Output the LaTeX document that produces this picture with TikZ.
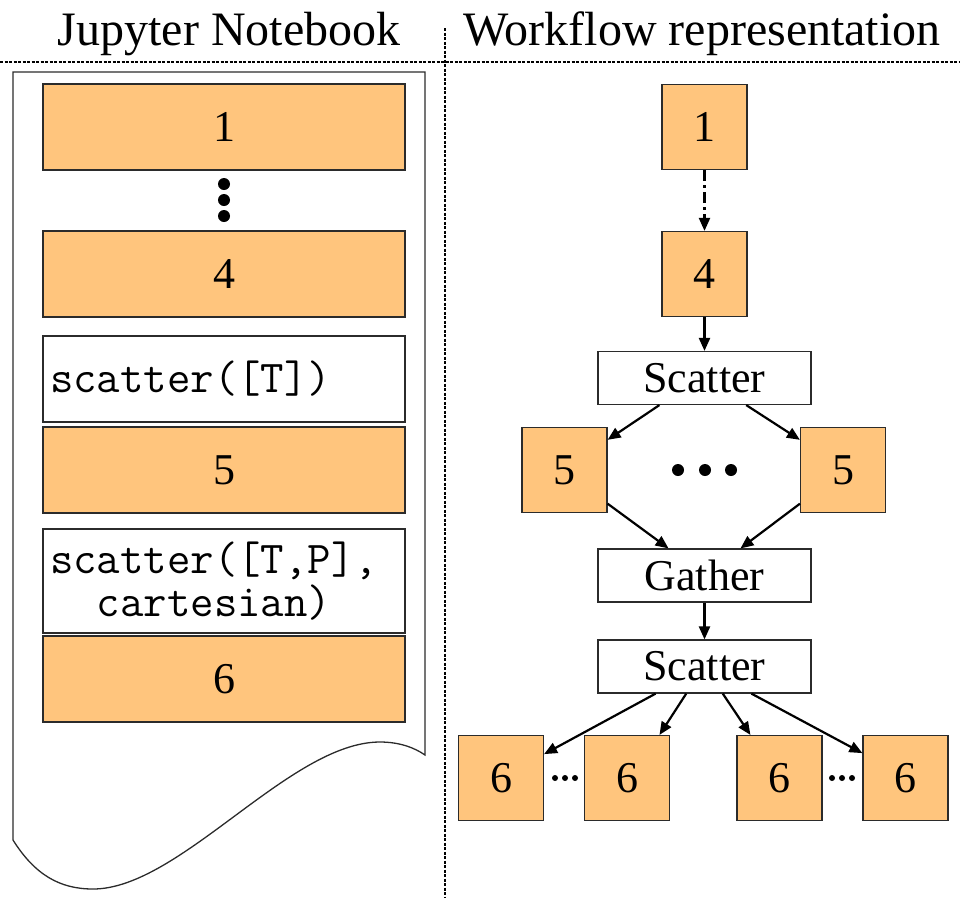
\documentclass[tikz,border=0pt]{standalone}
\usepackage{fontspec}
\setmainfont{Liberation Serif}
\usetikzlibrary{arrows.meta, positioning}
\definecolor{zelle}{HTML}{FFC57D}
\definecolor{rand}{HTML}{2B2B2B}

\begin{document}
\begin{tikzpicture}[x=1pt, y=-1pt,
    every node/.style={font=\fontsize{44}{48}\selectfont},
    cell/.style={draw=rand, fill=zelle, line width=1.2pt, minimum width=362pt,
                 minimum height=86pt, inner sep=0pt},
    code/.style={draw=rand, fill=white, line width=1.2pt, text width=348pt,
                 inner xsep=7pt, inner ysep=0pt, align=left,
                 font=\ttfamily\fontsize{45.5}{43}\selectfont},
    task/.style={draw=rand, fill=zelle, line width=1.2pt, minimum size=85pt, inner sep=0pt},
    op/.style={draw=rand, fill=white, line width=1.2pt, minimum width=213pt,
               minimum height=53pt, inner sep=0pt},
    flow/.style={-{Triangle[width=11pt,length=13pt]}, line width=2.2pt},
    teiler/.style={line width=1.1pt, dash pattern=on 3pt off 1.5pt}]
  \useasboundingbox (0,0) rectangle (960,898);

  % headings and dividers
  \node[anchor=base, font=\fontsize{48}{52}\selectfont] (jnb) at (229,45) {Jupyter Notebook};
  \node[anchor=base, font=\fontsize{48}{52}\selectfont] (wfr) at (702,45) {Workflow representation};
  \draw[teiler] (0,62) -- (960,62);
  \draw[teiler] (445,28) -- (445,898);

  % notebook page with wavy bottom
  \draw[line width=1.3pt, rand] (13,72) -- (425,72) -- (425,755)
    .. controls (415,748) and (400,742) .. (380,742)
    .. controls (290,742) and (180,889) .. (93,889)
    .. controls (60,889) and (35,875) .. (13,840) -- cycle;

  % notebook cells
  \node[cell] (c1) at (224,127) {1};
  \node[cell] (c4) at (224,274) {4};
  \node[code, minimum height=86pt] (s1) at (224,379) {scatter([T])};
  \node[cell] (c5) at (224,470) {5};
  \node[code, minimum height=104pt] (s2) at (224,581) {scatter([T,P],\\\phantom{sc}cartesian)};
  \node[cell] (c6) at (224,679) {6};
  \foreach \y in {184,200,216}
    \fill (224,\y) circle (6pt);

  % workflow graph
  \node[task] (t1) at (704.5,127) {1};
  \node[task] (t4) at (704.5,274) {4};
  \node[op] (sc1) at (704.5,378) {Scatter};
  \node[task] (t5a) at (564.5,470) {5};
  \node[task] (t5b) at (843,470) {5};
  \node[op] (ga) at (704.5,575.5) {Gather};
  \node[op] (sc2) at (704.5,666.5) {Scatter};
  \node[task] (t6a) at (501,778) {6};
  \node[task] (t6b) at (627,778) {6};
  \node[task] (t6c) at (779.5,778) {6};
  \node[task] (t6d) at (905.5,778) {6};

  \foreach \x in {678,705,731}
    \fill (\x,470) circle (6pt);
  \foreach \x in {555,565,575,832,842,852}
    \fill (\x,778) circle (3pt);

  \draw[flow, dash pattern=on 11pt off 4pt on 3pt off 4pt] (t1) -- (t4);
  \draw[flow] (t4) -- (sc1);
  \draw[flow] (sc1.211) -- (t5a.35);
  \draw[flow] (sc1.-33) -- (t5b.145);
  \draw[flow] (t5a.-38) -- (ga.143);
  \draw[flow] (t5b.218) -- (ga.37);
  \draw[flow] (ga) -- (sc2);
  \draw[flow] (sc2.209) -- (t6a.29);
  \draw[flow] (sc2.236) -- (t6b.53);
  \draw[flow] (sc2.-56) -- (t6c.124);
  \draw[flow] (sc2.-30) -- (t6d.150);
\end{tikzpicture}
\end{document}
